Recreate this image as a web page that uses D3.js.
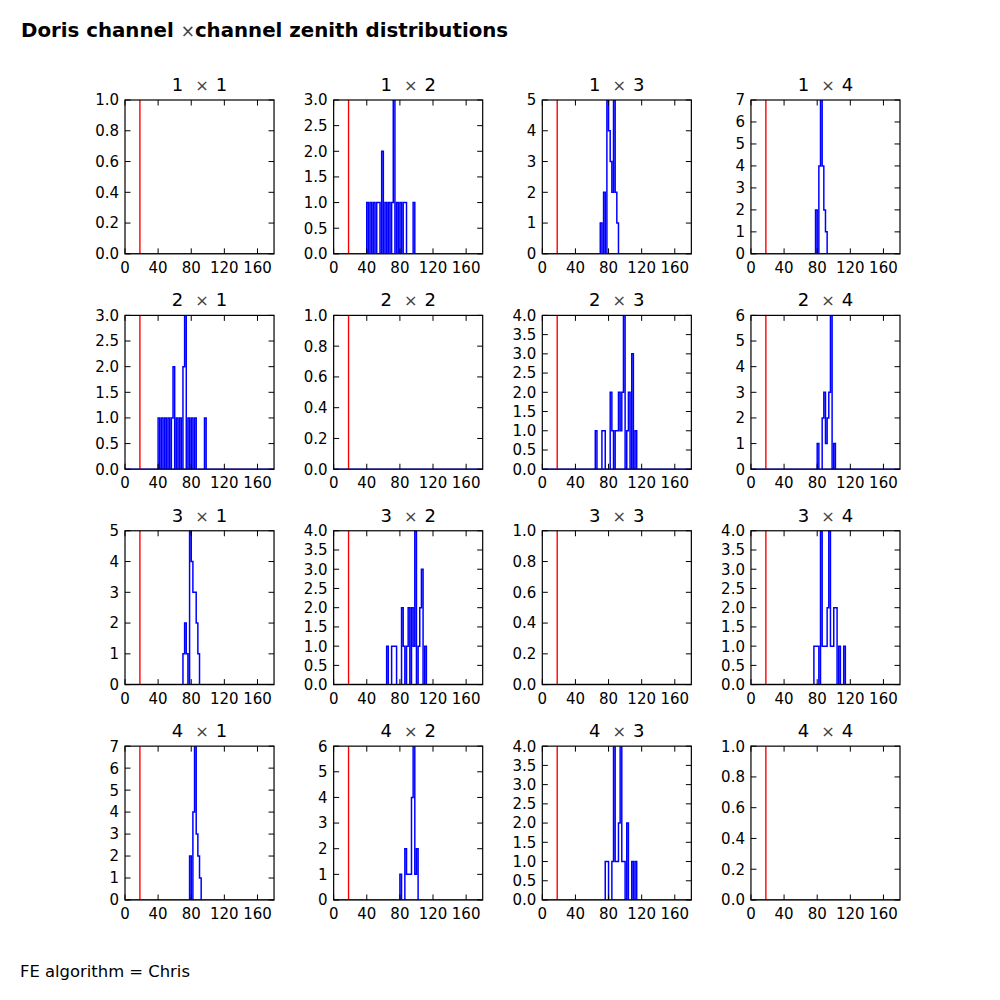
<!DOCTYPE html>
<html>
<head>
<meta charset="utf-8">
<script src="https://cdn.jsdelivr.net/npm/d3@7"></script>
<style>
  html, body { margin: 0; padding: 0; background: #fff; }
  svg { display: block; font-family: "DejaVu Sans", sans-serif; }
</style>
</head>
<body>
<svg id="chart" width="1000" height="1000"></svg>
<script>
// ---------- data ----------
const channels = [1, 2, 3, 4];
const xTicks = [0, 40, 80, 120, 160];
const xDomain = [0, 180];
const binWidth = 2;          // degrees per histogram bin
const cutZenith = 18;        // red reference line
const mainTitle = ["Doris channel ", "×", "channel zenith distributions"];
const footer = "FE algorithm = Chris";

// [bin start (deg), count] for non-empty bins
const h1x1 = [];
const h1x2 = [[40,1],[44,1],[48,1],[52,1],[54,1],[58,2],[62,1],[66,1],[70,1],[72,3],[76,1],[80,1],[84,1],[86,1],[96,1]];
const h1x3 = [[70,1],[74,2],[78,5],[80,4],[82,3],[84,2],[86,5],[88,2],[90,1]];
const h1x4 = [[78,2],[82,4],[84,7],[86,4],[88,2],[90,1]];
const h2x1 = [[40,1],[44,1],[48,1],[52,1],[56,1],[58,2],[62,1],[66,1],[70,2],[72,3],[76,1],[80,1],[84,1],[96,1]];
const h2x2 = [];
const h2x3 = [[64,1],[72,1],[74,1],[82,2],[84,1],[88,1],[90,1],[92,2],[94,1],[96,2],[98,4],[102,1],[104,2],[108,3],[112,1]];
const h2x4 = [[80,1],[86,2],[88,3],[90,1],[92,2],[94,3],[96,6],[100,1]];
const h3x1 = [[70,1],[72,2],[74,1],[78,5],[80,4],[82,3],[84,3],[86,2],[88,1]];
const h3x2 = [[64,1],[70,1],[72,1],[74,1],[82,2],[84,1],[88,1],[90,2],[94,2],[96,1],[98,4],[102,1],[104,2],[106,3],[110,1]];
const h3x3 = [];
const h3x4 = [[76,1],[78,1],[80,1],[84,4],[86,1],[88,1],[90,1],[92,2],[94,4],[96,1],[98,1],[100,2],[102,2],[106,1],[112,1]];
const h4x1 = [[78,2],[82,4],[84,7],[86,3],[88,2],[90,1]];
const h4x2 = [[80,1],[86,2],[88,1],[90,1],[92,1],[94,4],[96,6],[98,1],[100,2]];
const h4x3 = [[76,1],[78,1],[84,1],[86,4],[88,1],[90,1],[92,2],[94,4],[96,1],[98,1],[102,2],[108,1],[112,1]];
const h4x4 = [];

const hists = [
  [h1x1, h1x2, h1x3, h1x4],
  [h2x1, h2x2, h2x3, h2x4],
  [h3x1, h3x2, h3x3, h3x4],
  [h4x1, h4x2, h4x3, h4x4]
];

// ---------- layout ----------
const svg = d3.select("#chart");
svg.append("rect").attr("width", 1000).attr("height", 1000).attr("fill", "#fff");

const L = 125, R = 900, T = 100, B = 900, wsp = 0.4, hsp = 0.4;
const W = (R - L) / (4 + 3 * wsp), H = (B - T) / (4 + 3 * hsp);
const tickLen = 5.5, lw = 1.2;
const tickFs = 15, titleFs = 18;

function niceStep(max) {
  const raw = max / 9, p = Math.pow(10, Math.floor(Math.log10(raw)));
  for (const m of [1, 2, 5, 10]) if (m * p >= raw - 1e-9) return m * p;
}

const defs = svg.append("defs");

hists.forEach((row, ri) => row.forEach((hist, ci) => {
  const x0 = L + ci * W * (1 + wsp), y0 = T + ri * H * (1 + hsp);
  const x = d3.scaleLinear().domain(xDomain).range([x0, x0 + W]);
  const maxC = d3.max(hist, d => d[1]) || 1;
  const y = d3.scaleLinear().domain([0, maxC]).range([y0 + H, y0]);
  const step = niceStep(maxC);
  const yTicks = d3.range(0, maxC + step / 2, step);
  const fmt = step < 1 ? d3.format(".1f") : d3.format("d");

  const g = svg.append("g");
  const cid = `clip${ri}${ci}`;
  defs.append("clipPath").attr("id", cid).append("rect")
    .attr("x", x0).attr("y", y0).attr("width", W).attr("height", H);

  const nb = Math.round((xDomain[1] - xDomain[0]) / binWidth);
  const counts = new Array(nb).fill(0);
  hist.forEach(([s, c]) => { counts[Math.round((s - xDomain[0]) / binWidth)] = c; });
  const pts = [[xDomain[0], 0]].concat(counts.map((c, i) => [xDomain[0] + i * binWidth, c]), [[xDomain[1], 0]]);
  const line = d3.line().x(d => x(d[0])).y(d => y(d[1])).curve(d3.curveStepAfter);

  const cg = g.append("g").attr("clip-path", `url(#${cid})`);
  cg.append("path").attr("d", line(pts) + "Z")
    .attr("fill", "none").attr("stroke", "#0000ff").attr("stroke-width", 1.5)
    .attr("stroke-linejoin", "miter");
  cg.append("line").attr("x1", x(cutZenith)).attr("x2", x(cutZenith))
    .attr("y1", y0).attr("y2", y0 + H).attr("stroke", "#ff0000").attr("stroke-width", 1.4);

  g.append("rect").attr("x", x0).attr("y", y0).attr("width", W).attr("height", H)
    .attr("fill", "none").attr("stroke", "#000").attr("stroke-width", lw);

  xTicks.forEach(t => {
    const px = x(t);
    g.append("line").attr("x1", px).attr("x2", px).attr("y1", y0 + H).attr("y2", y0 + H - tickLen).attr("stroke", "#000").attr("stroke-width", 1);
    g.append("line").attr("x1", px).attr("x2", px).attr("y1", y0).attr("y2", y0 + tickLen).attr("stroke", "#000").attr("stroke-width", 1);
    g.append("text").attr("x", px).attr("y", y0 + H + 19).attr("text-anchor", "middle")
      .attr("font-size", tickFs).attr("fill", "#000").text(t);
  });
  yTicks.forEach(t => {
    const py = y(t);
    g.append("line").attr("x1", x0).attr("x2", x0 + tickLen).attr("y1", py).attr("y2", py).attr("stroke", "#000").attr("stroke-width", 1);
    g.append("line").attr("x1", x0 + W).attr("x2", x0 + W - tickLen).attr("y1", py).attr("y2", py).attr("stroke", "#000").attr("stroke-width", 1);
    g.append("text").attr("x", x0 - 6).attr("y", py + 0.36 * tickFs).attr("text-anchor", "end")
      .attr("font-size", tickFs).attr("fill", "#000").text(fmt(t));
  });

  const tt = g.append("text").attr("x", x0 + W / 2).attr("y", y0 - 9).attr("text-anchor", "middle")
    .attr("font-size", titleFs).attr("fill", "#000");
  tt.append("tspan").text(channels[ri]);
  tt.append("tspan").attr("dx", 12).attr("font-size", titleFs * 0.9).attr("fill", "#444").text("×");
  tt.append("tspan").attr("dx", 7).text(channels[ci]);
}));

const mt = svg.append("text").attr("x", 21).attr("y", 37).attr("font-size", 19.8)
  .attr("font-weight", "bold").attr("fill", "#000");
mt.append("tspan").text(mainTitle[0]);
mt.append("tspan").attr("font-weight", "normal").attr("fill", "#444").attr("font-size", 17).text(mainTitle[1]);
mt.append("tspan").text(mainTitle[2]);

svg.append("text").attr("x", 20).attr("y", 977).attr("font-size", 16.4).attr("fill", "#000").text(footer);
</script>
</body>
</html>
